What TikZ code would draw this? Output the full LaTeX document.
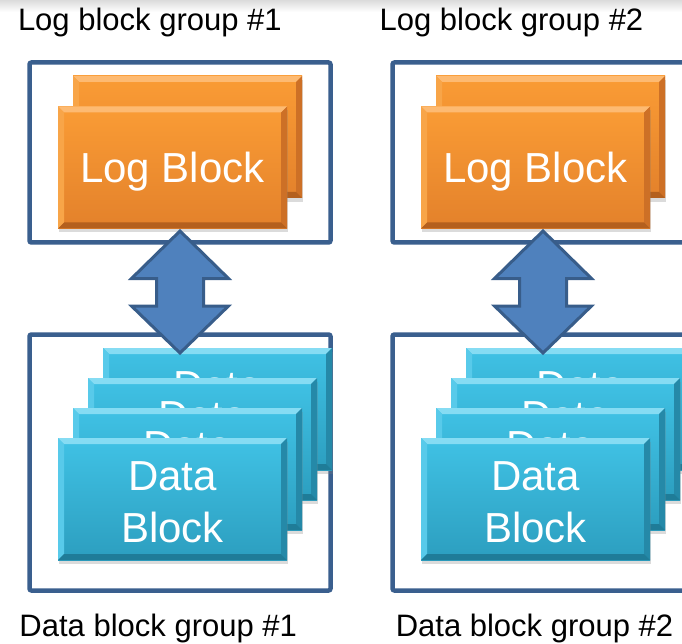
\documentclass[tikz,border=0pt]{standalone}
\usepackage{fontspec}
\setmainfont{Liberation Sans}
\usetikzlibrary{shadows,calc}

\definecolor{framec}{HTML}{3A5F8E}
\definecolor{arrfill}{HTML}{4F81BD}
\definecolor{arrline}{HTML}{385D8A}
\definecolor{orTop}{HTML}{FA9C35}
\definecolor{orBot}{HTML}{E3812B}
\definecolor{orHi}{HTML}{FDBA72}
\definecolor{orLeft}{HTML}{F8A548}
\definecolor{orRight}{HTML}{CD7026}
\definecolor{orLow}{HTML}{B4601E}
\definecolor{cyTop}{HTML}{40C2E5}
\definecolor{cyBot}{HTML}{2C9EBF}
\definecolor{cyHi}{HTML}{86DCF3}
\definecolor{cyLeft}{HTML}{58CAEA}
\definecolor{cyRight}{HTML}{2589A8}
\definecolor{cyLow}{HTML}{1F7C98}

\tikzset{
  groupframe/.style={draw=framec, line width=4.5pt, rounded corners=2pt,
    fill=white, inner sep=0pt, outer sep=0pt, minimum width=301pt},
  blockbody/.style={rectangle, minimum width=229pt, minimum height=122pt,
    inner sep=0pt, outer sep=0pt,
    drop shadow={shadow xshift=1pt, shadow yshift=-4pt, opacity=0.28}},
  blocktext/.style={anchor=base, text=white, inner sep=0pt,
    font=\fontsize{42}{50}\selectfont},
  headtext/.style={anchor=base west, inner sep=0pt, text=black,
    font=\fontsize{31}{37}\selectfont},
  bigarrow/.style={fill=arrfill, draw=arrline, line width=3pt},
}

% bevelled edges of a block node: #1 node, #2 colour prefix
\newcommand\bevels[2]{%
  \fill[#2Hi] (#1.north west) -- (#1.north east) -- ([shift={(-6,6)}]#1.north east)
    -- ([shift={(6,6)}]#1.north west) -- cycle;
  \fill[#2Left] (#1.north west) -- ([shift={(6,6)}]#1.north west)
    -- ([shift={(6,-6)}]#1.south west) -- (#1.south west) -- cycle;
  \fill[#2Right] (#1.north east) -- ([shift={(-6,6)}]#1.north east)
    -- ([shift={(-6,-6)}]#1.south east) -- (#1.south east) -- cycle;
  \fill[#2Low] (#1.south west) -- ([shift={(6,-6)}]#1.south west)
    -- ([shift={(-6,-6)}]#1.south east) -- (#1.south east) -- cycle;
}

% orange log block: name, x, y
\newcommand\logblk[3]{%
  \node[blockbody, top color=orTop, bottom color=orBot] (#1) at (#2,#3) {};
  \bevels{#1}{or}}

% cyan data block, stacked behind others: only its first line shows
\newcommand\datablk[3]{%
  \node[blockbody, top color=cyTop, bottom color=cyBot] (#1) at (#2,#3) {};
  \bevels{#1}{cy}
  \node[blocktext] (#1a) at ([shift={(0,-9)}]#1.center) {Data};}

% front cyan data block with both text lines: name, x, y
\newcommand\frontdatablk[3]{%
  \datablk{#1}{#2}{#3}
  \node[blocktext] (#1b) at ([shift={(0,43)}]#1.center) {Block};}

% up/down block arrow centred on a named coordinate
\newcommand\updown[1]{%
  \filldraw[bigarrow] ([shift={(0,-61)}]#1) -- ([shift={(48.5,-13.5)}]#1)
    -- ([shift={(23.5,-13.5)}]#1) -- ([shift={(23.5,14)}]#1)
    -- ([shift={(48.5,14)}]#1) -- ([shift={(0,61)}]#1)
    -- ([shift={(-48.5,14)}]#1) -- ([shift={(-23.5,14)}]#1)
    -- ([shift={(-23.5,-13.5)}]#1) -- ([shift={(-48.5,-13.5)}]#1) -- cycle;}

% one log group above one data group: x offset, tag
\newcommand\groupcolumn[2]{%
  \begin{scope}[shift={(#1,0)}]
    \node[groupframe, minimum height=180pt] (lg#2) at (180,152.5) {};
    \node[groupframe, minimum height=256pt] (dg#2) at (180,462.5) {};
    \logblk{lbb#2}{187.5}{137}
    \logblk{lbf#2}{172.5}{167.5}
    \node[blocktext] (lt#2) at ([shift={(0,15.5)}]lbf#2.center) {Log Block};
    \datablk{db#2w}{217.5}{409}
    \datablk{db#2x}{202.5}{439}
    \datablk{db#2y}{187.5}{469}
    \frontdatablk{db#2z}{172.5}{499}
    \coordinate (ar#2) at ($(lg#2.south)!0.5!(dg#2.north)+(0,3.5)$);
    \updown{ar#2}
  \end{scope}}

\begin{document}
\begin{tikzpicture}[x=1pt, y=-1pt]
  \useasboundingbox (0,0) rectangle (682,644);
  \clip (0,0) rectangle (682,644);
  \fill[white] (0,0) rectangle (682,644);
  \shade[top color=black!14, bottom color=white] (0,0) rectangle (682,12);

  \groupcolumn{0}{1}
  \groupcolumn{363}{2}

  \node[headtext] (h1) at (17.8,31) {Log block group \#1};
  \node[headtext] (h2) at (379.4,31) {Log block group \#2};
  \node[headtext] (f1) at (19.3,636.7) {Data block group \#1};
  \node[headtext] (f2) at (395.6,636.7) {Data block group \#2};
\end{tikzpicture}
\end{document}
